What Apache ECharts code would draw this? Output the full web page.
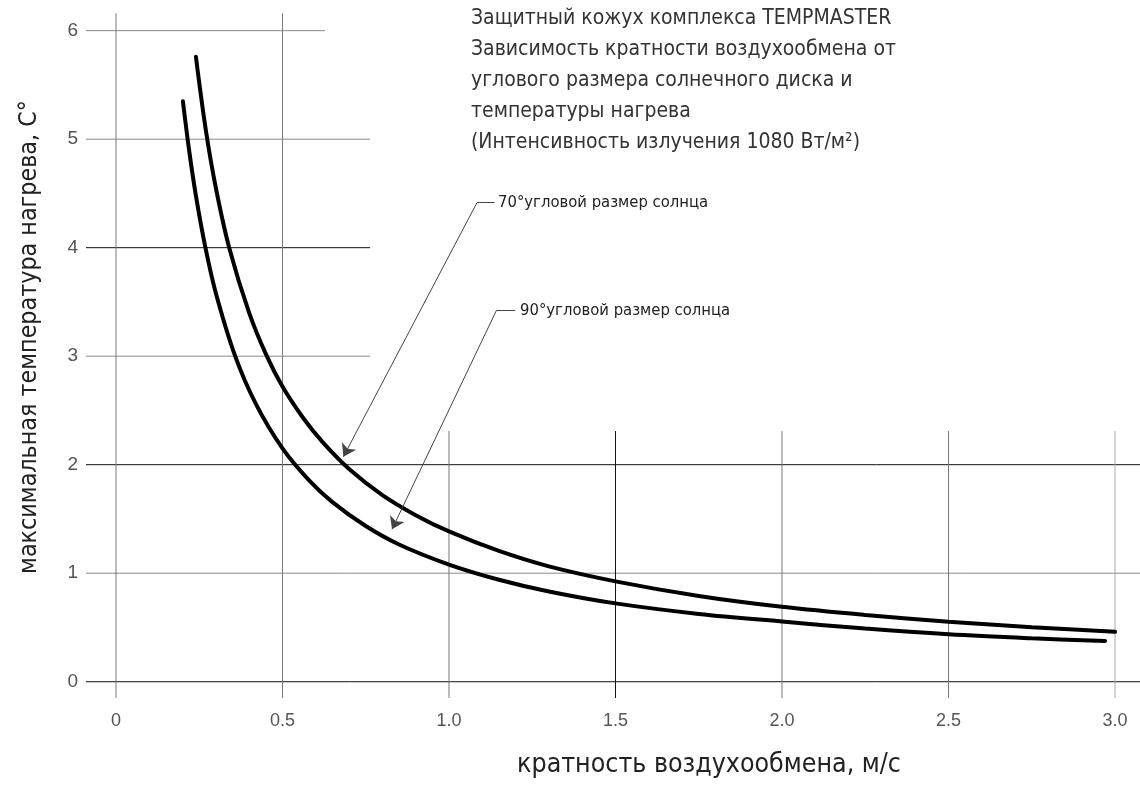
<!DOCTYPE html>
<html>
<head>
<meta charset="utf-8">
<script src="https://cdn.jsdelivr.net/npm/echarts@6/dist/echarts.min.js"></script>
<style>
  html, body { margin: 0; padding: 0; background: #fff; }
  #chart { width: 1140px; height: 787px; }
</style>
</head>
<body>
<div id="chart"></div>
<script>
// кривая 70° углового размера солнца
var x70 = [0.24, 0.27, 0.30, 0.34, 0.40, 0.453, 0.50, 0.56, 0.62, 0.70, 0.80, 0.90, 1.00, 1.15, 1.30, 1.50, 1.75, 2.00, 2.25, 2.50, 2.75, 3.00];
var y70 = [5.76, 5.08, 4.55, 4.00, 3.40, 3.00, 2.72, 2.44, 2.21, 1.96, 1.72, 1.535, 1.385, 1.205, 1.063, 0.925, 0.79, 0.69, 0.615, 0.553, 0.503, 0.46];
// кривая 90° углового размера солнца
var x90 = [0.201, 0.22, 0.24, 0.268, 0.30, 0.358, 0.42, 0.50, 0.58, 0.65, 0.75, 0.85, 1.00, 1.15, 1.30, 1.50, 1.75, 2.00, 2.25, 2.50, 2.75, 2.97];
var y90 = [5.35, 4.89, 4.48, 4.01, 3.58, 3.00, 2.56, 2.15, 1.855, 1.655, 1.435, 1.265, 1.08, 0.94, 0.832, 0.722, 0.625, 0.555, 0.49, 0.437, 0.40, 0.375];

// подписи осей
var xTicks = [0, 0.5, 1.0, 1.5, 2.0, 2.5, 3.0];
var xTickLabels = ['0', '0.5', '1.0', '1.5', '2.0', '2.5', '3.0'];
var yTicks = [0, 1, 2, 3, 4, 5, 6];
var yTickLabels = ['0', '1', '2', '3', '4', '5', '6'];

// сетка (в единицах осей): горизонтальные линии и их правые концы
var hLines = [0, 1, 2, 3, 4, 5, 6];
var hLineEnds = [3.075, 3.075, 3.075, 0.763, 0.763, 0.763, 0.628];
// вертикальные линии и их верхние концы
var vLines = [0, 0.5, 1.0, 1.5, 2.0, 2.5, 3.0];
var vLineTops = [6.16, 6.16, 2.31, 2.31, 2.31, 2.31, 2.31];

// выноски: [начало, излом, острие стрелки]
var leader70 = [[1.137, 4.415], [1.084, 4.415], [0.683, 2.074]];
var leader90 = [[1.199, 3.419], [1.142, 3.419], [0.829, 1.405]];

var X_MIN = -0.09, X_MAX = 3.075, Y_MIN = -0.15, Y_MAX = 6.16;
var darkH = [0, 2, 4];
var darkV = [1.5];
var cadFont = '"Liberation Sans Narrow", "DejaVu Sans Condensed", sans-serif';

function pairs(xs, ys) {
    var out = [];
    for (var i = 0; i < xs.length; i++) out.push([xs[i], ys[i]]);
    return out;
}

var series = [];
hLines.forEach(function (v, i) {
    series.push({
        type: 'line', silent: true, symbol: 'none', z: 1,
        lineStyle: { color: darkH.indexOf(v) >= 0 ? '#111' : '#8a8a8a', width: 1 },
        data: [[X_MIN, v], [hLineEnds[i], v]]
    });
});
vLines.forEach(function (v, i) {
    series.push({
        type: 'line', silent: true, symbol: 'none', z: 1,
        lineStyle: { color: darkV.indexOf(v) >= 0 ? '#111' : (v === 3 ? '#a8a8a8' : '#777'), width: 1 },
        data: [[v, Y_MIN], [v, vLineTops[i]]]
    });
});
series.push({
    name: '70°', type: 'line', symbol: 'none', smooth: 0.35, z: 5,
    lineStyle: { color: '#000', width: 4, cap: 'round' },
    data: pairs(x70, y70)
});
series.push({
    name: '90°', type: 'line', symbol: 'none', smooth: 0.35, z: 5,
    lineStyle: { color: '#000', width: 4, cap: 'round' },
    data: pairs(x90, y90)
});
series.push({
    type: 'lines', coordinateSystem: 'cartesian2d', silent: true, z: 6,
    lineStyle: { color: '#444', width: 1, opacity: 1 },
    symbolSize: [4, 12],
    data: [
        { coords: [leader70[0], leader70[1]], symbol: ['none', 'none'] },
        { coords: [leader70[1], leader70[2]], symbol: ['none', 'arrow'] },
        { coords: [leader90[0], leader90[1]], symbol: ['none', 'none'] },
        { coords: [leader90[1], leader90[2]], symbol: ['none', 'arrow'] }
    ]
});

var myChart = echarts.init(document.getElementById('chart'));
var option = {
    animation: false,
    backgroundColor: '#fff',
    grid: { left: 86, right: 0, top: 13.3, bottom: 89 },
    xAxis: {
        type: 'value', min: X_MIN, max: X_MAX,
        axisLine: { show: false }, axisTick: { show: false }, splitLine: { show: false },
        axisLabel: {
            customValues: xTicks,
            margin: 14,
            color: '#555',
            fontFamily: '"Liberation Sans", Arial, sans-serif',
            fontSize: 18,
            formatter: function (v) { return xTickLabels[xTicks.indexOf(v)]; }
        }
    },
    yAxis: {
        type: 'value', min: Y_MIN, max: Y_MAX,
        axisLine: { show: false }, axisTick: { show: false }, splitLine: { show: false },
        axisLabel: {
            customValues: yTicks,
            margin: 8,
            color: '#555',
            fontFamily: '"Liberation Sans", Arial, sans-serif',
            fontSize: 19,
            formatter: function (v) { return yTickLabels[yTicks.indexOf(v)]; }
        }
    },
    graphic: [
        {
            type: 'text', left: 471, top: 3,
            style: {
                text: 'Защитный кожух комплекса TEMPMASTER\nЗависимость кратности воздухообмена от\nуглового размера солнечного диска и\nтемпературы нагрева\n(Интенсивность излучения 1080 Вт/м²)',
                font: '21px ' + cadFont, fill: '#333', lineHeight: 31
            }
        },
        {
            type: 'text', x: 498, y: 203,
            style: { text: '70°угловой размер солнца', font: '16.5px ' + cadFont, fill: '#222', verticalAlign: 'middle' }
        },
        {
            type: 'text', x: 520, y: 311,
            style: { text: '90°угловой размер солнца', font: '16.5px ' + cadFont, fill: '#222', verticalAlign: 'middle' }
        },
        {
            type: 'text', x: 30, y: 337, rotation: Math.PI / 2,
            style: { text: 'максимальная температура нагрева, С°', font: '24.8px ' + cadFont, fill: '#222', align: 'center', verticalAlign: 'middle' }
        },
        {
            type: 'text', x: 709, y: 765,
            style: { text: 'кратность воздухообмена, м/с', font: '26.5px ' + cadFont, fill: '#222', align: 'center', verticalAlign: 'middle' }
        }
    ],
    series: series
};
myChart.setOption(option);
</script>
</body>
</html>
